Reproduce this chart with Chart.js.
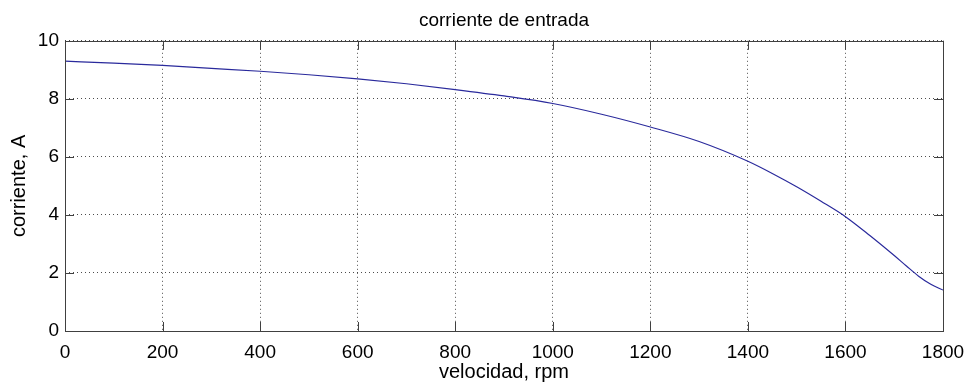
<!DOCTYPE html>
<html>
<head>
<meta charset="utf-8">
<script src="https://cdn.jsdelivr.net/npm/chart.js@4.4.1/dist/chart.umd.min.js"></script>
<style>
    body { margin: 0; background: #fff; }
    #contenedor { width: 967px; height: 385px; position: relative; }
</style>
</head>
<body>
<div id="contenedor"><canvas id="graficoCorriente"></canvas></div>
<script>
// Datos
const velocidad = [0, 100, 200, 300, 400, 500, 600, 700, 800, 900, 1000, 1100, 1200, 1300, 1400, 1450, 1500, 1550, 1600, 1650, 1700, 1725, 1750, 1775, 1800];
const corriente = [9.30, 9.23, 9.15, 9.05, 8.95, 8.83, 8.69, 8.52, 8.32, 8.10, 7.84, 7.47, 7.03, 6.53, 5.85, 5.43, 4.97, 4.47, 3.94, 3.29, 2.60, 2.24, 1.89, 1.61, 1.41];

const ticksX = [0, 200, 400, 600, 800, 1000, 1200, 1400, 1600, 1800];
const ticksY = [0, 2, 4, 6, 8, 10];

const fuente = "'Liberation Sans', Arial, sans-serif";

// Caja tipo MATLAB con marcas hacia adentro
const marcoMatlab = {
    id: 'marcoMatlab',
    afterDatasetsDraw(chart) {
        const ctx = chart.ctx;
        const area = chart.chartArea;
        const sx = chart.scales.x;
        const sy = chart.scales.y;
        const largo = 9;
        ctx.save();
        ctx.strokeStyle = '#404040';
        ctx.lineWidth = 1;
        ctx.beginPath();
        ticksX.forEach(function(v) {
            const px = Math.round(sx.getPixelForValue(v)) + 0.5;
            ctx.moveTo(px, area.bottom);
            ctx.lineTo(px, area.bottom - largo);
            ctx.moveTo(px, area.top);
            ctx.lineTo(px, area.top + largo);
        });
        ticksY.forEach(function(v) {
            const py = Math.round(sy.getPixelForValue(v)) + 0.5;
            ctx.moveTo(area.left, py);
            ctx.lineTo(area.left + largo, py);
            ctx.moveTo(area.right, py);
            ctx.lineTo(area.right - largo, py);
        });
        ctx.stroke();
        ctx.strokeRect(Math.round(area.left) + 0.5, Math.round(area.top) + 0.5,
            Math.round(area.right - area.left), Math.round(area.bottom - area.top));
        ctx.restore();
    }
};

const ctx = document.getElementById('graficoCorriente').getContext('2d');
new Chart(ctx, {
    type: 'line',
    data: {
        datasets: [{
            label: 'corriente',
            data: velocidad.map((v, i) => ({ x: v, y: corriente[i] })),
            borderColor: '#2a2a9c',
            borderWidth: 1.2,
            pointRadius: 0,
            cubicInterpolationMode: 'monotone',
            fill: false
        }]
    },
    options: {
        responsive: true,
        maintainAspectRatio: false,
        animation: false,
        layout: {
            padding: { left: 0, right: 24, top: 0, bottom: 0 }
        },
        plugins: {
            legend: { display: false },
            tooltip: { enabled: false },
            title: {
                display: true,
                fullSize: false,
                text: 'corriente de entrada',
                color: '#000',
                font: { family: fuente, size: 19, weight: 'normal' },
                padding: { top: 9, bottom: 9 }
            }
        },
        scales: {
            x: {
                type: 'linear',
                min: 0,
                max: 1800,
                afterFit: function(scale) {
                    scale.height = 54;
                    scale.paddingLeft = 0;
                    scale.paddingRight = 0;
                },
                afterBuildTicks: function(scale) {
                    scale.ticks = ticksX.map(v => ({ value: v }));
                },
                ticks: {
                    color: '#000',
                    font: { family: fuente, size: 19 },
                    padding: 10,
                    maxRotation: 0,
                    callback: function(value) { return String(value); }
                },
                grid: {
                    color: 'rgba(0,0,0,0.7)',
                    drawTicks: false
                },
                border: { display: false, dash: [1, 3] },
                title: {
                    display: true,
                    text: 'velocidad, rpm',
                    color: '#000',
                    font: { family: fuente, size: 20 },
                    padding: { top: 0, bottom: 1 }
                }
            },
            y: {
                type: 'linear',
                min: 0,
                max: 10,
                afterFit: function(scale) {
                    scale.width = 65;
                    scale.paddingTop = 0;
                    scale.paddingBottom = 0;
                },
                afterBuildTicks: function(scale) {
                    scale.ticks = ticksY.map(v => ({ value: v }));
                },
                ticks: {
                    color: '#000',
                    font: { family: fuente, size: 19 },
                    padding: 6,
                    callback: function(value) { return String(value); }
                },
                grid: {
                    color: 'rgba(0,0,0,0.7)',
                    drawTicks: false
                },
                border: { display: false, dash: [1, 3] },
                title: {
                    display: true,
                    text: 'corriente, A',
                    color: '#000',
                    font: { family: fuente, size: 20 },
                    padding: { top: 7, bottom: 0 }
                }
            }
        }
    },
    plugins: [marcoMatlab]
});
</script>
</body>
</html>
